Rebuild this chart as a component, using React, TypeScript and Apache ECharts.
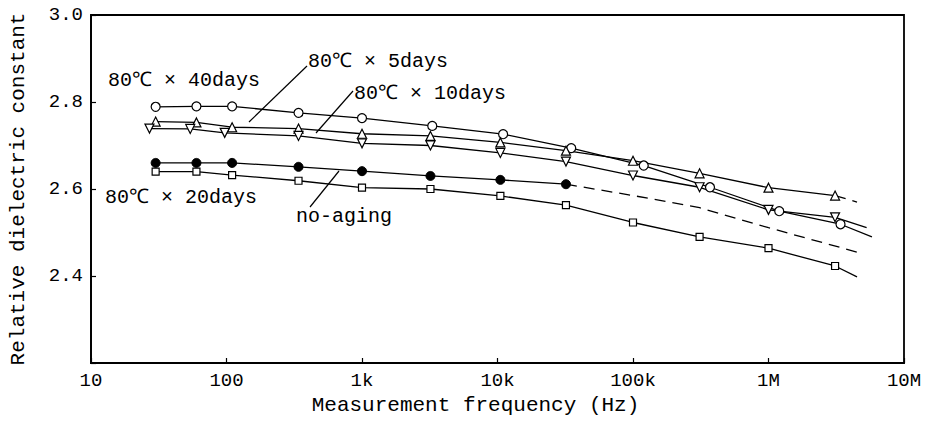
import React, { useEffect, useRef } from "react";
import * as echarts from "echarts";

// Measurement frequencies (Hz) of the plotted points
const freqHz = [30, 60, 110, 340, 1e3, 3.2e3, 1.05e4, 3.2e4, 1e5, 3.1e5, 1e6, 3.1e6];
const freq40days = [30, 60, 110, 340, 1e3, 3.3e3, 1.1e4, 3.5e4, 1.2e5, 3.7e5, 1.2e6, 3.4e6];
const freq10days = [27, 54, 97, 340, 1e3, 3.2e3, 1.05e4, 3.2e4, 1e5, 3.1e5, 1e6, 3.1e6];
const freqNoAging = [30, 60, 110, 340, 1e3, 3.2e3, 1.05e4, 3.2e4];

// Relative dielectric constant
const eps40days = [2.789, 2.79, 2.79, 2.775, 2.763, 2.745, 2.726, 2.694, 2.654, 2.604, 2.549, 2.519];
const eps5days = [2.755, 2.753, 2.742, 2.739, 2.727, 2.722, 2.707, 2.688, 2.665, 2.636, 2.603, 2.585];
const eps10days = [2.739, 2.738, 2.729, 2.722, 2.705, 2.7, 2.683, 2.663, 2.631, 2.604, 2.552, 2.535];
const eps20days = [2.64, 2.64, 2.632, 2.619, 2.603, 2.6, 2.584, 2.563, 2.523, 2.49, 2.464, 2.423];
const epsNoAging = [2.66, 2.66, 2.66, 2.651, 2.641, 2.63, 2.621, 2.611];

// Extrapolated trends beyond the measured range
const trendNoAgingFreq = [3.2e4, 1e5, 3.1e5, 1e6, 4.5e6];
const trendNoAging = [2.611, 2.585, 2.557, 2.511, 2.455];
const tail5daysFreq = [3.1e6, 4.5e6];
const tail5days = [2.585, 2.57];
const tail10daysFreq = [3.1e6, 5.3e6];
const tail10days = [2.535, 2.511];
const tail40daysFreq = [3.4e6, 5.8e6];
const tail40days = [2.519, 2.49];
const tail20daysFreq = [3.1e6, 4.5e6];
const tail20days = [2.423, 2.398];

const xTickLabels = ["10", "100", "1k", "10k", "100k", "1M", "10M"];

const MONO = '"Liberation Mono", "DejaVu Sans Mono", monospace';

const pair = (xs: number[], ys: number[]) => xs.map((x, i) => [x, ys[i]]);

const lineStyle = { color: "#000", width: 1.3 };
const openMarker = { color: "#fff", borderColor: "#000", borderWidth: 1.2 };

function markedSeries(
  name: string,
  xs: number[],
  ys: number[],
  symbol: string,
  size: number,
  filled = false,
  rotate = 0
) {
  return {
    name,
    type: "line",
    data: pair(xs, ys),
    symbol,
    symbolSize: size,
    symbolRotate: rotate,
    showAllSymbol: true,
    lineStyle,
    itemStyle: filled ? { color: "#000", borderColor: "#000", borderWidth: 1 } : openMarker,
    z: 3,
  };
}

function trendSeries(name: string, xs: number[], ys: number[], dashed: boolean) {
  return {
    name,
    type: "line",
    data: pair(xs, ys),
    symbol: "none",
    lineStyle: { color: "#000", width: 1.3, type: dashed ? [11, 7] : "solid" },
    z: 2,
  };
}

const labelText = (text: string, x: number, y: number) => ({
  type: "text",
  x,
  y,
  style: { text, fill: "#000", font: `20px ${MONO}`, verticalAlign: "middle" },
  z: 10,
});

const leader = (x1: number, y1: number, x2: number, y2: number) => ({
  type: "line",
  shape: { x1, y1, x2, y2 },
  style: { stroke: "#000", lineWidth: 1.2 },
  z: 10,
});

export default function App() {
  const ref = useRef<HTMLDivElement>(null);

  useEffect(() => {
    if (!ref.current) return;
    const chart = echarts.init(ref.current, undefined, { renderer: "svg" });
    chart.setOption({
      animation: false,
      backgroundColor: "#fff",
      grid: {
        left: 86,
        right: 23,
        top: 15,
        bottom: 60,
        show: true,
        borderColor: "#000",
        borderWidth: 1.8,
      },
      xAxis: {
        type: "log",
        logBase: 10,
        min: 10,
        max: 1e7,
        axisLine: { lineStyle: { color: "#000", width: 1.8 } },
        axisTick: { inside: true, length: 5, lineStyle: { color: "#000", width: 1.2 } },
        minorTick: { show: false },
        splitLine: { show: false },
        axisLabel: {
          color: "#000",
          fontFamily: MONO,
          fontSize: 19,
          margin: 8,
          formatter: (v: number) => xTickLabels[Math.round(Math.log10(v)) - 1] ?? "",
        },
        name: "Measurement frequency (Hz)",
        nameLocation: "middle",
        nameGap: 32,
        nameTextStyle: { color: "#000", fontFamily: MONO, fontSize: 21, padding: [0, 44, 0, 0] },
      },
      yAxis: {
        type: "value",
        min: 2.2,
        max: 3.0,
        interval: 0.2,
        axisLine: { lineStyle: { color: "#000", width: 1.8 } },
        axisTick: { inside: true, length: 5, lineStyle: { color: "#000", width: 1.2 } },
        splitLine: { show: false },
        axisLabel: {
          color: "#000",
          fontFamily: MONO,
          fontSize: 19,
          margin: 8,
          formatter: (v: number) => (v < 2.3 ? "" : v.toFixed(1)),
        },
        name: "Relative dielectric constant",
        nameLocation: "middle",
        nameGap: 62,
        nameTextStyle: { color: "#000", fontFamily: MONO, fontSize: 21 },
      },
      series: [
        markedSeries("80℃ × 40days", freq40days, eps40days, "circle", 9),
        markedSeries("80℃ × 5days", freqHz, eps5days, "triangle", 9),
        markedSeries("80℃ × 10days", freq10days, eps10days, "triangle", 9, false, 180),
        markedSeries("no-aging", freqNoAging, epsNoAging, "circle", 9, true),
        markedSeries("80℃ × 20days", freqHz, eps20days, "rect", 7),
        trendSeries("no-aging trend", trendNoAgingFreq, trendNoAging, true),
        trendSeries("5days trend", tail5daysFreq, tail5days, true),
        trendSeries("10days trend", tail10daysFreq, tail10days, false),
        trendSeries("40days trend", tail40daysFreq, tail40days, false),
        trendSeries("20days trend", tail20daysFreq, tail20days, false),
      ],
      graphic: [
        labelText("80℃ × 40days", 108, 80),
        labelText("80℃ × 5days", 308, 61),
        labelText("80℃ × 10days", 354, 93),
        labelText("80℃ × 20days", 105, 197),
        labelText("no-aging", 296, 216),
        leader(307, 66, 249, 122),
        leader(353, 91, 316, 133),
        leader(310, 207, 339, 171),
      ],
    });
    return () => chart.dispose();
  }, []);

  return (
    <div
      ref={ref}
      style={{ position: "fixed", left: 0, top: 0, width: 927, height: 423 }}
    />
  );
}
